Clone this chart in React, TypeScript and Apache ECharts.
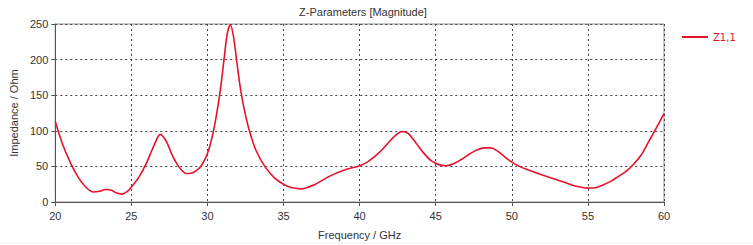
import React, { useEffect, useRef } from "react";
import * as echarts from "echarts";

const freqGHz: number[] = [
  20, 20.5, 21, 21.5, 22, 22.5, 23, 23.3, 23.7, 24, 24.4, 24.8, 25, 25.5, 26, 26.5, 26.9, 27.3, 27.7, 28.1,
  28.5, 28.8, 29.2, 29.6, 30, 30.4, 30.8, 31.1, 31.3, 31.5, 31.7, 31.9, 32.2, 32.5, 32.8, 33.2, 33.8, 34.4,
  35, 35.5, 36.2, 37, 38, 39, 40, 40.5, 41, 41.5, 42, 42.5, 42.8, 43.2, 43.7, 44.2, 44.7, 45.2, 45.7, 46.2,
  46.7, 47.2, 47.7, 48.2, 48.6, 49, 49.5, 50, 50.5, 51, 52, 53, 54, 54.5, 55, 55.5, 56, 56.5, 57, 57.5, 58,
  58.5, 59, 59.5, 60,
];
const z11Ohm: number[] = [
  113, 80, 55, 35, 21, 14, 15.5, 17.5, 16.5, 13, 11, 16, 21, 35, 55, 80, 95, 85, 65, 50,
  41, 40, 43, 51, 68, 100, 150, 202, 236, 249, 234, 202, 155, 122, 97, 72, 49, 34,
  25, 20.5, 18.5, 24, 36, 45, 51, 56, 64, 74, 86, 96, 99, 96, 83, 69, 58, 52.5, 51, 54,
  60, 67, 73, 76, 76, 72.5, 64, 56, 50, 45.5, 38, 31, 23.5, 21, 19.5, 20, 24, 29, 36, 43, 53,
  66, 85, 104, 124,
];
const xTicks = { min: 20, max: 60, interval: 5 };
const yTicks = { min: 0, max: 250, interval: 50 };

export default function App() {
  const ref = useRef<HTMLDivElement>(null);
  useEffect(() => {
    if (!ref.current) return;
    const chart = echarts.init(ref.current, null, { renderer: "svg" });
    const sans = "'Liberation Sans', Arial, sans-serif";
    const red = "#e8112d";
    chart.setOption({
      animation: false,
      backgroundColor: "#ffffff",
      title: {
        text: "Z-Parameters [Magnitude]",
        left: 358,
        textAlign: "center",
        top: 1,
        textStyle: { fontSize: 11, fontWeight: "normal", color: "#333", fontFamily: sans },
      },
      legend: {
        left: 677,
        top: 27,
        icon: "rect",
        itemWidth: 26,
        itemHeight: 2,
        itemGap: 6,
        textStyle: { color: red, fontSize: 10, fontFamily: "'DejaVu Sans', sans-serif" },
        data: ["Z1,1"],
      },
      grid: {
        left: 53,
        right: 89,
        top: 24,
        bottom: 41,
        show: true,
        borderColor: "#8a8a8a",
        borderWidth: 1,
      },
      xAxis: {
        type: "value",
        min: xTicks.min,
        max: xTicks.max,
        interval: xTicks.interval,
        name: "Frequency / GHz",
        nameLocation: "middle",
        nameGap: 27,
        nameTextStyle: { fontSize: 11, color: "#333", fontFamily: sans },
        axisLine: { lineStyle: { color: "#555", width: 1 } },
        axisTick: { show: true, length: 4, lineStyle: { color: "#555" } },
        axisLabel: { fontSize: 11, color: "#333", margin: 8, fontFamily: sans },
        splitLine: { show: true, lineStyle: { color: "#444", type: [2, 3], width: 1 } },
      },
      yAxis: {
        type: "value",
        min: yTicks.min,
        max: yTicks.max,
        interval: yTicks.interval,
        name: "Impedance / Ohm",
        nameLocation: "middle",
        nameGap: 34,
        nameTextStyle: { fontSize: 11, color: "#333", fontFamily: sans },
        axisLine: { show: true, lineStyle: { color: "#555", width: 1 } },
        axisTick: { show: true, length: 4, lineStyle: { color: "#555" } },
        axisLabel: { fontSize: 11, color: "#333", margin: 7, fontFamily: sans },
        splitLine: { show: true, lineStyle: { color: "#444", type: [2, 3], width: 1 } },
      },
      series: [
        {
          name: "Z1,1",
          type: "line",
          data: freqGHz.map((f, i) => [f, z11Ohm[i]]),
          smooth: 0.3,
          showSymbol: false,
          lineStyle: { color: red, width: 1.6 },
          itemStyle: { color: red },
        },
      ],
      graphic: [
        { type: "line", shape: { x1: 0, y1: 243, x2: 753, y2: 243 }, style: { stroke: "#ececec", lineWidth: 1 } },
      ],
    });
    return () => chart.dispose();
  }, []);
  return <div ref={ref} style={{ width: 753, height: 245, position: "absolute", left: 0, top: 0 }} />;
}
